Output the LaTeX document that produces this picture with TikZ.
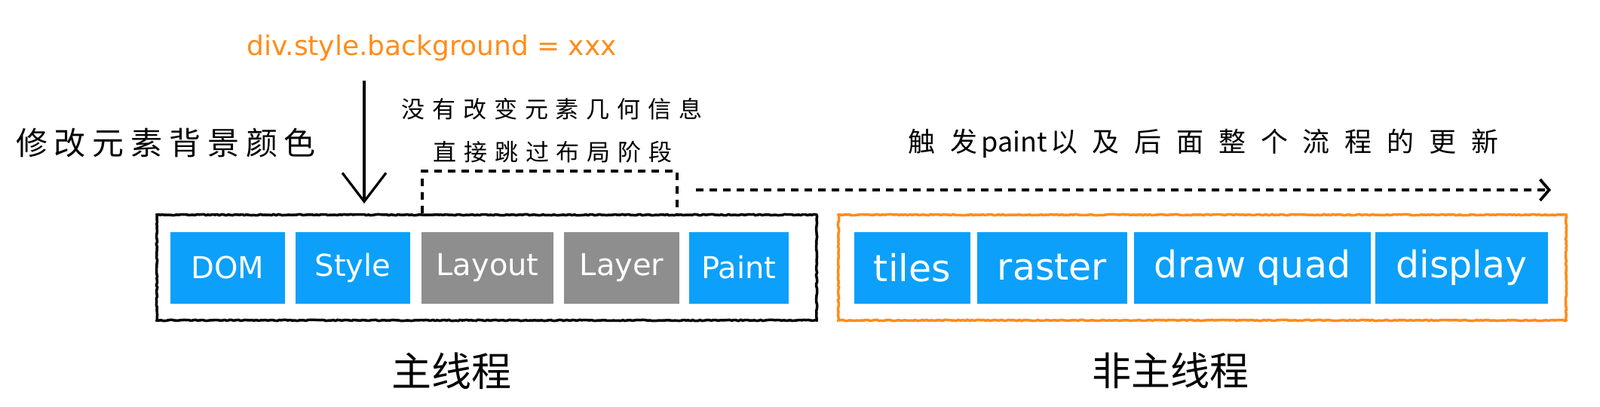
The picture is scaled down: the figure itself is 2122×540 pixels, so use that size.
\documentclass[tikz,border=0pt]{standalone}
\usepackage{fontspec}
\setmainfont{DejaVu Sans}
\newfontfamily\cjk{Noto Sans CJK SC}
\newfontfamily\cjkA[LetterSpace=21]{Noto Sans CJK SC}
\newfontfamily\cjkB[LetterSpace=32]{Noto Sans CJK SC}
\newfontfamily\cjkC[LetterSpace=55]{Noto Sans CJK SC}
\usetikzlibrary{arrows.meta,decorations.pathmorphing}
\definecolor{cblue}{RGB}{12,160,250}
\definecolor{cgrey}{RGB}{142,142,142}
\definecolor{corange}{RGB}{255,140,26}
\tikzset{
  stage/.style={fill=cblue, draw=none, text=white, inner sep=0pt, minimum height=95pt},
  stagegrey/.style={stage, fill=cgrey},
  lft/.style={font=\fontsize{40}{48}\selectfont},
  rgt/.style={font=\fontsize{49}{58}\selectfont},
  frame/.style={line width=3.5pt, inner sep=0pt, minimum height=140pt,
    decorate, decoration={random steps, segment length=3pt, amplitude=0.7pt}},
  lbl/.style={inner sep=0pt, anchor=center},
  dashline/.style={line width=3.8pt, dash pattern=on 10pt off 8pt},
}
\begin{document}
\begin{tikzpicture}[x=1pt, y=-1pt]
\useasboundingbox (0,0) rectangle (2122,540);
% frames
\node[frame, draw=black, minimum width=875pt] (main) at (645.5,355) {};
\node[frame, draw=corange, minimum width=965pt] (other) at (1594.5,355) {};
% main thread stages
\node[stage, lft, minimum width=152pt] (dom) at (302,355) {DOM};
\node[stage, lft, minimum width=152pt] (style) at (468,355) {Style};
\node[stagegrey, lft, minimum width=175pt] (layout) at (646.5,355) {Layout};
\node[stagegrey, lft, minimum width=153pt] (layer) at (824.5,355) {Layer};
\node[stage, lft, minimum width=132pt] (paint) at (980,355) {Paint};
% non-main thread stages
\node[stage, rgt, minimum width=154pt] (tiles) at (1210,355) {tiles};
\node[stage, rgt, minimum width=199pt] (raster) at (1395.5,355) {raster};
\node[stage, rgt, minimum width=314pt] (quad) at (1661,355) {draw quad};
\node[stage, rgt, minimum width=229pt] (display) at (1938.5,355) {display};
% texts
\node[lbl, text=corange, font=\fontsize{36}{43}\selectfont] (code) at (572.5,64) {div.style.background = xxx};
\node[lbl, font=\cjkA\fontsize{42}{50}\selectfont] (modify) at (220,190) {修改元素背景颜色};
\node[lbl, font=\cjkB\fontsize{31}{37}\selectfont] (skip1) at (732,145) {没有改变元素几何信息};
\node[lbl, font=\cjkB\fontsize{31}{37}\selectfont] (skip2) at (733,202) {直接跳过布局阶段};
\node[lbl, font=\cjkC\fontsize{36}{43}\selectfont] (trigger) at (1596,190) {触发\hspace{5pt}{\cjk paint}\hspace{4pt}以及后面整个流程的更新};
\node[lbl, font=\cjk\fontsize{53}{60}\selectfont] (mainlbl) at (599,492) {主线程};
\node[lbl, font=\cjk\fontsize{52}{60}\selectfont] (otherlbl) at (1552,492) {非主线程};
% down arrow
\coordinate (arrtop) at (483,107);
\coordinate (arrtip) at (483,270);
\draw[line width=3.2pt, -{Straight Barb[length=38pt, width=58pt, line width=3.2pt]}] (arrtop) -- (arrtip);
% dashed skip bracket
\coordinate (bl) at (560,227);
\coordinate (br) at (898,227);
\draw[dashline] (main.north -| bl) -- (bl) -- (br) -- (main.north -| br);
% dashed arrow
\coordinate (da) at (923,252);
\coordinate (db) at (2057,252);
\draw[dashline, -{Straight Barb[length=12pt, width=28pt, line width=3.8pt]}] (da) -- (db);
\end{tikzpicture}
\end{document}
